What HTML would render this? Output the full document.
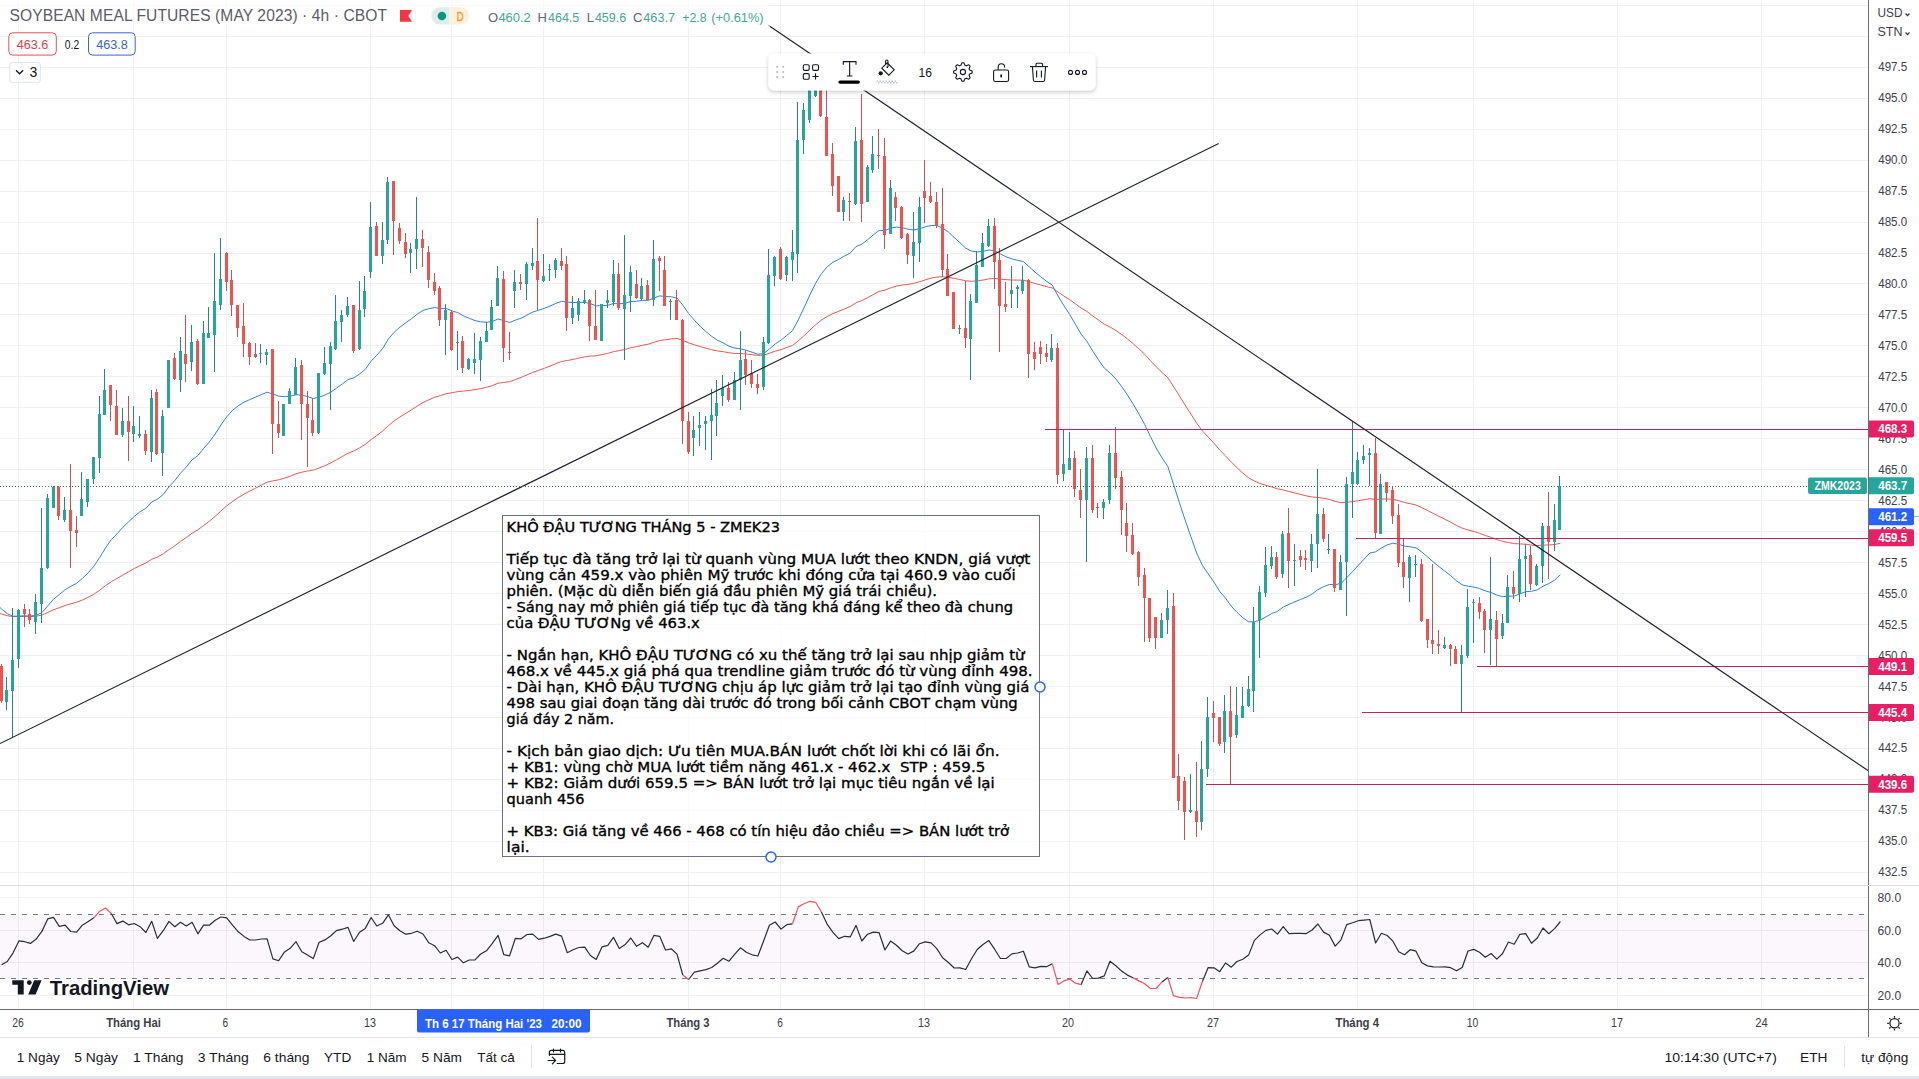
<!DOCTYPE html><html><head><meta charset="utf-8"><style>
html,body{margin:0;padding:0;background:#fff;width:1919px;height:1079px;overflow:hidden}
svg{display:block}
.t{font-family:"Liberation Sans",Arial,sans-serif}
.d{font-family:"DejaVu Sans",Verdana,sans-serif}
</style></head><body>
<svg width="1919" height="1079" viewBox="0 0 1919 1079">
<rect width="1919" height="1079" fill="#ffffff"/>
<g stroke="#f0f0f0" stroke-width="1" shape-rendering="crispEdges">
<line x1="18.5" y1="0" x2="18.5" y2="885"/>
<line x1="18.5" y1="886" x2="18.5" y2="1009"/>
<line x1="133.5" y1="0" x2="133.5" y2="885"/>
<line x1="133.5" y1="886" x2="133.5" y2="1009"/>
<line x1="226.5" y1="0" x2="226.5" y2="885"/>
<line x1="226.5" y1="886" x2="226.5" y2="1009"/>
<line x1="370.5" y1="0" x2="370.5" y2="885"/>
<line x1="370.5" y1="886" x2="370.5" y2="1009"/>
<line x1="451.5" y1="0" x2="451.5" y2="885"/>
<line x1="451.5" y1="886" x2="451.5" y2="1009"/>
<line x1="543.5" y1="0" x2="543.5" y2="885"/>
<line x1="543.5" y1="886" x2="543.5" y2="1009"/>
<line x1="688.5" y1="0" x2="688.5" y2="885"/>
<line x1="688.5" y1="886" x2="688.5" y2="1009"/>
<line x1="780.5" y1="0" x2="780.5" y2="885"/>
<line x1="780.5" y1="886" x2="780.5" y2="1009"/>
<line x1="924.5" y1="0" x2="924.5" y2="885"/>
<line x1="924.5" y1="886" x2="924.5" y2="1009"/>
<line x1="1069.5" y1="0" x2="1069.5" y2="885"/>
<line x1="1069.5" y1="886" x2="1069.5" y2="1009"/>
<line x1="1213.5" y1="0" x2="1213.5" y2="885"/>
<line x1="1213.5" y1="886" x2="1213.5" y2="1009"/>
<line x1="1357.5" y1="0" x2="1357.5" y2="885"/>
<line x1="1357.5" y1="886" x2="1357.5" y2="1009"/>
<line x1="1473.5" y1="0" x2="1473.5" y2="885"/>
<line x1="1473.5" y1="886" x2="1473.5" y2="1009"/>
<line x1="1617.5" y1="0" x2="1617.5" y2="885"/>
<line x1="1617.5" y1="886" x2="1617.5" y2="1009"/>
<line x1="1761.5" y1="0" x2="1761.5" y2="885"/>
<line x1="1761.5" y1="886" x2="1761.5" y2="1009"/>
<line x1="0" y1="5.5" x2="1868" y2="5.5"/>
<line x1="0" y1="36.5" x2="1868" y2="36.5"/>
<line x1="0" y1="67.5" x2="1868" y2="67.5"/>
<line x1="0" y1="98.5" x2="1868" y2="98.5"/>
<line x1="0" y1="129.5" x2="1868" y2="129.5"/>
<line x1="0" y1="160.5" x2="1868" y2="160.5"/>
<line x1="0" y1="191.5" x2="1868" y2="191.5"/>
<line x1="0" y1="222.5" x2="1868" y2="222.5"/>
<line x1="0" y1="253.5" x2="1868" y2="253.5"/>
<line x1="0" y1="283.5" x2="1868" y2="283.5"/>
<line x1="0" y1="314.5" x2="1868" y2="314.5"/>
<line x1="0" y1="345.5" x2="1868" y2="345.5"/>
<line x1="0" y1="376.5" x2="1868" y2="376.5"/>
<line x1="0" y1="407.5" x2="1868" y2="407.5"/>
<line x1="0" y1="438.5" x2="1868" y2="438.5"/>
<line x1="0" y1="469.5" x2="1868" y2="469.5"/>
<line x1="0" y1="500.5" x2="1868" y2="500.5"/>
<line x1="0" y1="531.5" x2="1868" y2="531.5"/>
<line x1="0" y1="562.5" x2="1868" y2="562.5"/>
<line x1="0" y1="593.5" x2="1868" y2="593.5"/>
<line x1="0" y1="624.5" x2="1868" y2="624.5"/>
<line x1="0" y1="655.5" x2="1868" y2="655.5"/>
<line x1="0" y1="686.5" x2="1868" y2="686.5"/>
<line x1="0" y1="717.5" x2="1868" y2="717.5"/>
<line x1="0" y1="748.5" x2="1868" y2="748.5"/>
<line x1="0" y1="779.5" x2="1868" y2="779.5"/>
<line x1="0" y1="810.5" x2="1868" y2="810.5"/>
<line x1="0" y1="841.5" x2="1868" y2="841.5"/>
<line x1="0" y1="872.5" x2="1868" y2="872.5"/>
<line x1="0" y1="897.5" x2="1868" y2="897.5"/>
<line x1="0" y1="930.5" x2="1868" y2="930.5"/>
<line x1="0" y1="962.5" x2="1868" y2="962.5"/>
<line x1="0" y1="995.5" x2="1868" y2="995.5"/>
</g>
<rect x="0" y="914" width="1868" height="65" fill="#9c27b0" fill-opacity="0.04"/>
<line x1="0" y1="914.5" x2="1868" y2="914.5" stroke="#787b86" stroke-width="1" stroke-dasharray="5 6" shape-rendering="crispEdges"/>
<line x1="0" y1="978.5" x2="1868" y2="978.5" stroke="#787b86" stroke-width="1" stroke-dasharray="5 6" shape-rendering="crispEdges"/>
<polyline points="-4.2,612.0 1.6,614.0 7.3,615.7 13.1,616.6 18.9,616.5 24.7,616.4 30.4,616.5 36.2,616.2 42.0,615.1 47.7,612.5 53.5,609.7 59.3,607.7 65.1,605.5 70.8,603.8 76.6,602.3 82.4,600.0 88.2,597.3 93.9,594.2 99.7,590.2 105.5,585.7 111.3,581.7 117.0,578.4 122.8,575.0 128.6,571.8 134.3,568.5 140.1,565.6 145.9,563.0 151.7,559.3 157.4,557.0 163.2,553.9 169.0,549.6 174.8,545.8 180.5,541.4 186.3,537.5 192.1,533.2 197.9,529.8 203.6,525.5 209.4,521.2 215.2,516.3 220.9,511.0 226.7,505.9 232.5,501.5 238.3,497.6 244.0,494.2 249.8,491.1 255.6,488.2 261.4,485.1 267.1,482.2 272.9,480.9 278.7,479.8 284.5,478.1 290.2,476.2 296.0,473.8 301.8,472.2 307.5,471.0 313.3,470.2 319.1,468.0 324.9,465.7 330.6,463.0 336.4,459.8 342.2,456.6 348.0,453.3 353.7,451.0 359.5,447.9 365.3,444.4 371.1,439.6 376.8,435.5 382.6,431.1 388.4,425.6 394.1,421.0 399.9,417.0 405.7,413.4 411.5,409.8 417.2,406.0 423.0,402.5 428.8,399.8 434.6,397.3 440.3,395.6 446.1,393.7 451.9,392.8 457.7,391.6 463.4,391.1 469.2,390.4 475.0,389.7 480.7,388.6 486.5,387.3 492.3,385.6 498.1,383.2 503.8,382.4 509.6,381.7 515.4,379.5 521.2,377.4 526.9,374.9 532.7,372.4 538.5,370.4 544.3,368.3 550.0,366.1 555.8,363.7 561.6,361.5 567.3,360.5 573.1,359.4 578.9,358.1 584.7,356.8 590.4,356.1 596.2,355.8 602.0,354.6 607.8,353.4 613.5,351.6 619.3,350.6 625.1,349.4 630.8,347.7 636.6,346.6 642.4,345.3 648.2,344.2 653.9,342.3 659.7,340.5 665.5,339.8 671.3,338.9 677.0,338.5 682.8,340.3 688.6,342.8 694.4,344.8 700.1,346.5 705.9,348.2 711.7,349.7 717.4,350.9 723.2,351.7 729.0,352.8 734.8,353.4 740.5,353.5 746.3,354.0 752.1,354.7 757.9,355.4 763.6,355.1 769.4,353.3 775.2,351.2 781.0,349.6 786.7,347.5 792.5,345.4 798.3,340.9 804.0,335.7 809.8,330.2 815.6,324.8 821.4,320.1 827.1,316.5 832.9,313.6 838.7,311.3 844.5,308.9 850.2,306.5 856.0,302.8 861.8,300.6 867.6,297.7 873.3,294.5 879.1,291.4 884.9,290.1 890.6,287.9 896.4,286.1 902.2,285.0 908.0,284.4 913.7,283.4 919.5,281.7 925.3,279.9 931.1,278.1 936.8,277.0 942.6,276.8 948.4,277.3 954.2,278.4 959.9,279.5 965.7,280.8 971.5,281.3 977.2,280.9 983.0,280.1 988.8,278.9 994.6,278.5 1000.3,279.1 1006.1,279.7 1011.9,280.0 1017.7,280.1 1023.4,280.1 1029.2,281.7 1035.0,283.5 1040.8,285.0 1046.5,286.6 1052.3,288.0 1058.1,292.1 1063.8,296.0 1069.6,299.6 1075.4,303.8 1081.2,308.1 1086.9,311.4 1092.7,315.9 1098.5,320.1 1104.3,324.2 1110.0,327.0 1115.8,330.4 1121.6,334.4 1127.4,338.8 1133.1,343.6 1138.9,348.8 1144.7,354.3 1150.4,360.6 1156.2,366.8 1162.0,372.4 1167.8,377.6 1173.5,386.5 1179.3,395.8 1185.1,405.0 1190.9,414.0 1196.6,423.1 1202.4,430.8 1208.2,437.1 1214.0,443.3 1219.7,450.0 1225.5,455.8 1231.3,462.1 1237.0,467.7 1242.8,473.0 1248.6,477.8 1254.4,481.0 1260.1,483.5 1265.9,485.3 1271.7,486.9 1277.5,488.9 1283.2,489.9 1289.0,491.5 1294.8,493.0 1300.6,494.4 1306.3,495.9 1312.1,497.0 1317.9,497.4 1323.6,498.3 1329.4,499.4 1335.2,501.4 1341.0,502.7 1346.7,502.3 1352.5,501.6 1358.3,500.7 1364.1,499.7 1369.8,498.7 1375.6,499.5 1381.4,499.1 1387.2,499.0 1392.9,499.3 1398.7,500.7 1404.5,502.5 1410.2,503.7 1416.0,505.0 1421.8,507.6 1427.6,510.5 1433.3,513.5 1439.1,516.4 1444.9,519.3 1450.7,522.2 1456.4,525.3 1462.2,528.2 1468.0,529.9 1473.8,531.5 1479.5,533.3 1485.3,535.5 1491.1,537.3 1496.8,539.6 1502.6,541.4 1508.4,542.5 1514.2,543.6 1519.9,543.9 1525.7,544.2 1531.5,545.1 1537.3,545.5 1543.0,545.1 1548.8,545.0 1554.6,544.5 1560.4,543.2" fill="none" stroke="#e35b55" stroke-width="1" stroke-linejoin="round"/>
<polyline points="-4.2,603.5 1.6,609.1 7.3,613.7 13.1,616.3 18.9,616.0 24.7,615.8 30.4,616.1 36.2,615.3 42.0,612.6 47.7,606.0 53.5,599.2 59.3,594.5 65.1,589.7 70.8,586.3 76.6,583.3 82.4,578.4 88.2,572.8 93.9,566.2 99.7,557.5 105.5,547.9 111.3,539.7 117.0,533.8 122.8,527.3 128.6,521.9 134.3,516.4 140.1,511.7 145.9,508.3 151.7,502.0 157.4,499.2 163.2,494.5 169.0,486.8 174.8,480.6 180.5,473.2 186.3,467.0 192.1,459.8 197.9,455.5 203.6,448.5 209.4,441.9 215.2,433.9 220.9,425.0 226.7,416.8 232.5,410.4 238.3,405.7 244.0,402.2 249.8,399.6 255.6,397.1 261.4,394.6 267.1,392.2 272.9,394.0 278.7,396.2 284.5,396.7 290.2,396.3 296.0,394.7 301.8,395.2 307.5,396.5 313.3,398.6 319.1,397.1 324.9,395.1 330.6,392.3 336.4,388.2 342.2,384.0 348.0,379.6 353.7,377.9 359.5,374.1 365.3,369.3 371.1,361.2 376.8,355.2 382.6,348.6 388.4,339.0 394.1,332.3 399.9,327.1 405.7,322.9 411.5,318.7 417.2,314.2 423.0,310.4 428.8,308.7 434.6,307.6 440.3,308.4 446.1,308.5 451.9,310.9 457.7,312.6 463.4,315.8 469.2,318.3 475.0,320.6 480.7,321.8 486.5,322.3 492.3,321.4 498.1,319.0 503.8,320.6 509.6,322.5 515.4,320.2 521.2,318.1 526.9,315.1 532.7,312.1 538.5,310.3 544.3,308.3 550.0,306.1 555.8,303.4 561.6,301.3 567.3,302.2 573.1,302.5 578.9,302.4 584.7,302.3 590.4,303.7 596.2,305.8 602.0,305.7 607.8,305.3 613.5,303.5 619.3,303.8 625.1,303.3 630.8,301.5 636.6,301.3 642.4,300.4 648.2,300.4 653.9,298.0 659.7,295.9 665.5,296.5 671.3,296.8 677.0,298.1 682.8,305.1 688.6,313.5 694.4,320.2 700.1,326.2 705.9,331.6 711.7,336.4 717.4,340.2 723.2,342.9 729.0,346.2 734.8,348.1 740.5,348.8 746.3,350.3 752.1,352.2 757.9,354.3 763.6,353.6 769.4,349.1 775.2,343.9 781.0,340.2 786.7,335.4 792.5,330.7 798.3,319.8 804.0,307.8 809.8,295.1 815.6,283.2 821.4,273.7 827.1,266.9 832.9,262.3 838.7,259.4 844.5,256.0 850.2,253.0 856.0,246.6 861.8,244.2 867.6,239.7 873.3,234.9 879.1,230.4 884.9,230.6 890.6,228.2 896.4,227.1 902.2,227.7 908.0,229.2 913.7,230.0 919.5,228.7 925.3,226.9 931.1,225.5 936.8,225.5 942.6,228.1 948.4,232.0 954.2,237.5 959.9,242.7 965.7,248.1 971.5,251.1 977.2,251.9 983.0,251.4 988.8,250.0 994.6,250.7 1000.3,253.8 1006.1,256.9 1011.9,258.8 1017.7,260.4 1023.4,261.5 1029.2,266.8 1035.0,272.1 1040.8,276.8 1046.5,281.3 1052.3,285.1 1058.1,296.0 1063.8,305.6 1069.6,314.3 1075.4,324.3 1081.2,334.3 1086.9,341.3 1092.7,351.0 1098.5,359.9 1104.3,368.1 1110.0,372.9 1115.8,378.9 1121.6,386.4 1127.4,394.9 1133.1,404.0 1138.9,413.9 1144.7,424.4 1150.4,436.5 1156.2,448.0 1162.0,457.9 1167.8,466.4 1173.5,484.2 1179.3,502.4 1185.1,520.0 1190.9,536.6 1196.6,552.9 1202.4,565.3 1208.2,573.9 1214.0,582.1 1219.7,591.4 1225.5,598.2 1231.3,606.2 1237.0,612.4 1242.8,617.7 1248.6,621.8 1254.4,621.8 1260.1,620.1 1265.9,617.0 1271.7,613.5 1277.5,611.4 1283.2,607.0 1289.0,604.4 1294.8,601.8 1300.6,599.4 1306.3,597.2 1312.1,594.1 1317.9,589.6 1323.6,586.7 1329.4,584.5 1335.2,584.7 1341.0,583.4 1346.7,577.7 1352.5,571.7 1358.3,565.3 1364.1,559.1 1369.8,553.0 1375.6,551.9 1381.4,548.0 1387.2,544.9 1392.9,543.2 1398.7,544.3 1404.5,546.2 1410.2,546.8 1416.0,547.8 1421.8,552.0 1427.6,557.0 1433.3,562.0 1439.1,566.7 1444.9,571.2 1450.7,575.7 1456.4,580.7 1462.2,584.9 1468.0,586.2 1473.8,587.1 1479.5,588.5 1485.3,590.9 1491.1,592.5 1496.8,595.1 1502.6,596.7 1508.4,596.2 1514.2,596.1 1519.9,593.9 1525.7,591.7 1531.5,591.3 1537.3,589.8 1543.0,586.2 1548.8,583.6 1554.6,580.0 1560.4,574.7" fill="none" stroke="#3382d6" stroke-width="1" stroke-linejoin="round"/>
<g shape-rendering="crispEdges">
<rect x="1" y="664" width="1" height="39" fill="#c8524f"/>
<rect x="0" y="666" width="3" height="35" fill="#ef5350"/>
<rect x="6" y="677" width="1" height="33" fill="#24887e"/>
<rect x="5" y="690" width="3" height="12" fill="#26a69a"/>
<rect x="12" y="608" width="1" height="129" fill="#24887e"/>
<rect x="11" y="660" width="3" height="31" fill="#26a69a"/>
<rect x="18" y="609" width="1" height="59" fill="#24887e"/>
<rect x="17" y="610" width="3" height="49" fill="#26a69a"/>
<rect x="24" y="604" width="1" height="23" fill="#c8524f"/>
<rect x="23" y="609" width="3" height="5" fill="#ef5350"/>
<rect x="29" y="609" width="1" height="15" fill="#c8524f"/>
<rect x="28" y="614" width="3" height="6" fill="#ef5350"/>
<rect x="35" y="594" width="1" height="40" fill="#24887e"/>
<rect x="34" y="602" width="3" height="20" fill="#26a69a"/>
<rect x="41" y="508" width="1" height="115" fill="#24887e"/>
<rect x="40" y="568" width="3" height="36" fill="#26a69a"/>
<rect x="47" y="494" width="1" height="75" fill="#24887e"/>
<rect x="46" y="498" width="3" height="70" fill="#26a69a"/>
<rect x="53" y="486" width="1" height="22" fill="#24887e"/>
<rect x="52" y="487" width="3" height="21" fill="#26a69a"/>
<rect x="58" y="486" width="1" height="34" fill="#c8524f"/>
<rect x="57" y="487" width="3" height="29" fill="#ef5350"/>
<rect x="64" y="497" width="1" height="25" fill="#24887e"/>
<rect x="63" y="510" width="3" height="10" fill="#26a69a"/>
<rect x="70" y="464" width="1" height="104" fill="#c8524f"/>
<rect x="69" y="510" width="3" height="21" fill="#ef5350"/>
<rect x="76" y="516" width="1" height="31" fill="#c8524f"/>
<rect x="75" y="530" width="3" height="3" fill="#ef5350"/>
<rect x="81" y="472" width="1" height="44" fill="#24887e"/>
<rect x="80" y="499" width="3" height="17" fill="#26a69a"/>
<rect x="87" y="479" width="1" height="28" fill="#24887e"/>
<rect x="86" y="479" width="3" height="23" fill="#26a69a"/>
<rect x="93" y="457" width="1" height="27" fill="#24887e"/>
<rect x="92" y="457" width="3" height="22" fill="#26a69a"/>
<rect x="99" y="396" width="1" height="77" fill="#24887e"/>
<rect x="98" y="414" width="3" height="44" fill="#26a69a"/>
<rect x="104" y="369" width="1" height="46" fill="#24887e"/>
<rect x="103" y="390" width="3" height="25" fill="#26a69a"/>
<rect x="110" y="385" width="1" height="36" fill="#c8524f"/>
<rect x="109" y="385" width="3" height="20" fill="#ef5350"/>
<rect x="116" y="390" width="1" height="45" fill="#c8524f"/>
<rect x="115" y="406" width="3" height="29" fill="#ef5350"/>
<rect x="122" y="408" width="1" height="29" fill="#24887e"/>
<rect x="121" y="421" width="3" height="14" fill="#26a69a"/>
<rect x="128" y="396" width="1" height="65" fill="#c8524f"/>
<rect x="127" y="421" width="3" height="11" fill="#ef5350"/>
<rect x="133" y="406" width="1" height="36" fill="#24887e"/>
<rect x="132" y="426" width="3" height="8" fill="#26a69a"/>
<rect x="139" y="416" width="1" height="22" fill="#24887e"/>
<rect x="138" y="434" width="3" height="2" fill="#26a69a"/>
<rect x="145" y="430" width="1" height="25" fill="#c8524f"/>
<rect x="144" y="434" width="3" height="17" fill="#ef5350"/>
<rect x="151" y="390" width="1" height="72" fill="#24887e"/>
<rect x="150" y="398" width="3" height="54" fill="#26a69a"/>
<rect x="156" y="389" width="1" height="66" fill="#c8524f"/>
<rect x="155" y="392" width="3" height="62" fill="#ef5350"/>
<rect x="162" y="410" width="1" height="66" fill="#24887e"/>
<rect x="161" y="416" width="3" height="37" fill="#26a69a"/>
<rect x="168" y="360" width="1" height="48" fill="#24887e"/>
<rect x="167" y="360" width="3" height="48" fill="#26a69a"/>
<rect x="174" y="353" width="1" height="27" fill="#c8524f"/>
<rect x="173" y="358" width="3" height="21" fill="#ef5350"/>
<rect x="180" y="337" width="1" height="55" fill="#24887e"/>
<rect x="179" y="351" width="3" height="29" fill="#26a69a"/>
<rect x="185" y="315" width="1" height="67" fill="#c8524f"/>
<rect x="184" y="354" width="3" height="10" fill="#ef5350"/>
<rect x="191" y="325" width="1" height="46" fill="#24887e"/>
<rect x="190" y="342" width="3" height="20" fill="#26a69a"/>
<rect x="197" y="339" width="1" height="46" fill="#c8524f"/>
<rect x="196" y="341" width="3" height="43" fill="#ef5350"/>
<rect x="203" y="321" width="1" height="63" fill="#24887e"/>
<rect x="202" y="333" width="3" height="51" fill="#26a69a"/>
<rect x="208" y="307" width="1" height="31" fill="#24887e"/>
<rect x="207" y="333" width="3" height="5" fill="#26a69a"/>
<rect x="214" y="253" width="1" height="119" fill="#24887e"/>
<rect x="213" y="301" width="3" height="34" fill="#26a69a"/>
<rect x="220" y="238" width="1" height="72" fill="#24887e"/>
<rect x="219" y="279" width="3" height="26" fill="#26a69a"/>
<rect x="226" y="252" width="1" height="39" fill="#c8524f"/>
<rect x="225" y="253" width="3" height="29" fill="#ef5350"/>
<rect x="231" y="270" width="1" height="46" fill="#c8524f"/>
<rect x="230" y="280" width="3" height="25" fill="#ef5350"/>
<rect x="237" y="305" width="1" height="32" fill="#c8524f"/>
<rect x="236" y="305" width="3" height="23" fill="#ef5350"/>
<rect x="243" y="303" width="1" height="54" fill="#c8524f"/>
<rect x="242" y="326" width="3" height="18" fill="#ef5350"/>
<rect x="249" y="342" width="1" height="23" fill="#c8524f"/>
<rect x="248" y="343" width="3" height="14" fill="#ef5350"/>
<rect x="255" y="343" width="1" height="15" fill="#c8524f"/>
<rect x="254" y="354" width="3" height="3" fill="#ef5350"/>
<rect x="260" y="344" width="1" height="19" fill="#24887e"/>
<rect x="259" y="353" width="3" height="1" fill="#26a69a"/>
<rect x="266" y="349" width="1" height="16" fill="#24887e"/>
<rect x="265" y="352" width="3" height="3" fill="#26a69a"/>
<rect x="272" y="349" width="1" height="105" fill="#c8524f"/>
<rect x="271" y="349" width="3" height="75" fill="#ef5350"/>
<rect x="278" y="401" width="1" height="37" fill="#c8524f"/>
<rect x="277" y="424" width="3" height="9" fill="#ef5350"/>
<rect x="283" y="404" width="1" height="32" fill="#24887e"/>
<rect x="282" y="404" width="3" height="32" fill="#26a69a"/>
<rect x="289" y="388" width="1" height="16" fill="#24887e"/>
<rect x="288" y="391" width="3" height="13" fill="#26a69a"/>
<rect x="295" y="358" width="1" height="37" fill="#24887e"/>
<rect x="294" y="367" width="3" height="28" fill="#26a69a"/>
<rect x="301" y="360" width="1" height="80" fill="#c8524f"/>
<rect x="300" y="365" width="3" height="39" fill="#ef5350"/>
<rect x="307" y="391" width="1" height="76" fill="#c8524f"/>
<rect x="306" y="404" width="3" height="14" fill="#ef5350"/>
<rect x="312" y="398" width="1" height="38" fill="#c8524f"/>
<rect x="311" y="420" width="3" height="13" fill="#ef5350"/>
<rect x="318" y="373" width="1" height="61" fill="#24887e"/>
<rect x="317" y="373" width="3" height="60" fill="#26a69a"/>
<rect x="324" y="347" width="1" height="28" fill="#24887e"/>
<rect x="323" y="363" width="3" height="11" fill="#26a69a"/>
<rect x="330" y="342" width="1" height="68" fill="#24887e"/>
<rect x="329" y="346" width="3" height="18" fill="#26a69a"/>
<rect x="335" y="295" width="1" height="55" fill="#24887e"/>
<rect x="334" y="321" width="3" height="28" fill="#26a69a"/>
<rect x="341" y="310" width="1" height="32" fill="#24887e"/>
<rect x="340" y="315" width="3" height="7" fill="#26a69a"/>
<rect x="347" y="297" width="1" height="20" fill="#24887e"/>
<rect x="346" y="306" width="3" height="9" fill="#26a69a"/>
<rect x="353" y="305" width="1" height="48" fill="#c8524f"/>
<rect x="352" y="305" width="3" height="46" fill="#ef5350"/>
<rect x="359" y="281" width="1" height="69" fill="#24887e"/>
<rect x="358" y="310" width="3" height="39" fill="#26a69a"/>
<rect x="364" y="276" width="1" height="41" fill="#24887e"/>
<rect x="363" y="291" width="3" height="18" fill="#26a69a"/>
<rect x="370" y="202" width="1" height="76" fill="#24887e"/>
<rect x="369" y="227" width="3" height="45" fill="#26a69a"/>
<rect x="376" y="222" width="1" height="34" fill="#c8524f"/>
<rect x="375" y="226" width="3" height="30" fill="#ef5350"/>
<rect x="382" y="222" width="1" height="42" fill="#24887e"/>
<rect x="381" y="240" width="3" height="16" fill="#26a69a"/>
<rect x="387" y="177" width="1" height="67" fill="#24887e"/>
<rect x="386" y="182" width="3" height="58" fill="#26a69a"/>
<rect x="393" y="181" width="1" height="74" fill="#c8524f"/>
<rect x="392" y="181" width="3" height="40" fill="#ef5350"/>
<rect x="399" y="223" width="1" height="21" fill="#c8524f"/>
<rect x="398" y="228" width="3" height="13" fill="#ef5350"/>
<rect x="405" y="233" width="1" height="25" fill="#c8524f"/>
<rect x="404" y="242" width="3" height="12" fill="#ef5350"/>
<rect x="410" y="243" width="1" height="30" fill="#24887e"/>
<rect x="409" y="249" width="3" height="4" fill="#26a69a"/>
<rect x="416" y="197" width="1" height="72" fill="#24887e"/>
<rect x="415" y="239" width="3" height="10" fill="#26a69a"/>
<rect x="422" y="230" width="1" height="37" fill="#c8524f"/>
<rect x="421" y="239" width="3" height="9" fill="#ef5350"/>
<rect x="428" y="246" width="1" height="42" fill="#c8524f"/>
<rect x="427" y="252" width="3" height="28" fill="#ef5350"/>
<rect x="434" y="273" width="1" height="22" fill="#c8524f"/>
<rect x="433" y="282" width="3" height="9" fill="#ef5350"/>
<rect x="439" y="286" width="1" height="40" fill="#c8524f"/>
<rect x="438" y="288" width="3" height="32" fill="#ef5350"/>
<rect x="445" y="304" width="1" height="51" fill="#24887e"/>
<rect x="444" y="310" width="3" height="10" fill="#26a69a"/>
<rect x="451" y="310" width="1" height="41" fill="#c8524f"/>
<rect x="450" y="312" width="3" height="38" fill="#ef5350"/>
<rect x="457" y="331" width="1" height="39" fill="#24887e"/>
<rect x="456" y="342" width="3" height="1" fill="#26a69a"/>
<rect x="462" y="336" width="1" height="37" fill="#c8524f"/>
<rect x="461" y="341" width="3" height="27" fill="#ef5350"/>
<rect x="468" y="358" width="1" height="12" fill="#24887e"/>
<rect x="467" y="359" width="3" height="10" fill="#26a69a"/>
<rect x="474" y="333" width="1" height="41" fill="#24887e"/>
<rect x="473" y="359" width="3" height="4" fill="#26a69a"/>
<rect x="480" y="337" width="1" height="44" fill="#24887e"/>
<rect x="479" y="341" width="3" height="19" fill="#26a69a"/>
<rect x="486" y="322" width="1" height="20" fill="#24887e"/>
<rect x="485" y="331" width="3" height="11" fill="#26a69a"/>
<rect x="491" y="300" width="1" height="30" fill="#24887e"/>
<rect x="490" y="307" width="3" height="23" fill="#26a69a"/>
<rect x="497" y="266" width="1" height="40" fill="#24887e"/>
<rect x="496" y="278" width="3" height="28" fill="#26a69a"/>
<rect x="503" y="271" width="1" height="91" fill="#c8524f"/>
<rect x="502" y="279" width="3" height="69" fill="#ef5350"/>
<rect x="509" y="332" width="1" height="28" fill="#c8524f"/>
<rect x="508" y="352" width="3" height="1" fill="#ef5350"/>
<rect x="514" y="270" width="1" height="38" fill="#24887e"/>
<rect x="513" y="282" width="3" height="9" fill="#26a69a"/>
<rect x="520" y="274" width="1" height="16" fill="#c8524f"/>
<rect x="519" y="282" width="3" height="2" fill="#ef5350"/>
<rect x="526" y="262" width="1" height="38" fill="#24887e"/>
<rect x="525" y="264" width="3" height="20" fill="#26a69a"/>
<rect x="532" y="248" width="1" height="22" fill="#24887e"/>
<rect x="531" y="263" width="3" height="3" fill="#26a69a"/>
<rect x="537" y="218" width="1" height="92" fill="#c8524f"/>
<rect x="536" y="261" width="3" height="19" fill="#ef5350"/>
<rect x="543" y="254" width="1" height="28" fill="#24887e"/>
<rect x="542" y="276" width="3" height="5" fill="#26a69a"/>
<rect x="549" y="264" width="1" height="17" fill="#24887e"/>
<rect x="548" y="269" width="3" height="1" fill="#26a69a"/>
<rect x="555" y="258" width="1" height="20" fill="#24887e"/>
<rect x="554" y="260" width="3" height="10" fill="#26a69a"/>
<rect x="561" y="248" width="1" height="22" fill="#c8524f"/>
<rect x="560" y="261" width="3" height="5" fill="#ef5350"/>
<rect x="566" y="256" width="1" height="75" fill="#c8524f"/>
<rect x="565" y="264" width="3" height="54" fill="#ef5350"/>
<rect x="572" y="296" width="1" height="28" fill="#24887e"/>
<rect x="571" y="308" width="3" height="10" fill="#26a69a"/>
<rect x="578" y="298" width="1" height="23" fill="#24887e"/>
<rect x="577" y="301" width="3" height="14" fill="#26a69a"/>
<rect x="584" y="290" width="1" height="14" fill="#24887e"/>
<rect x="583" y="300" width="3" height="3" fill="#26a69a"/>
<rect x="589" y="299" width="1" height="42" fill="#c8524f"/>
<rect x="588" y="300" width="3" height="26" fill="#ef5350"/>
<rect x="595" y="290" width="1" height="50" fill="#c8524f"/>
<rect x="594" y="326" width="3" height="14" fill="#ef5350"/>
<rect x="601" y="304" width="1" height="37" fill="#24887e"/>
<rect x="600" y="304" width="3" height="37" fill="#26a69a"/>
<rect x="607" y="290" width="1" height="18" fill="#24887e"/>
<rect x="606" y="300" width="3" height="3" fill="#26a69a"/>
<rect x="613" y="260" width="1" height="46" fill="#24887e"/>
<rect x="612" y="274" width="3" height="28" fill="#26a69a"/>
<rect x="618" y="263" width="1" height="47" fill="#c8524f"/>
<rect x="617" y="274" width="3" height="34" fill="#ef5350"/>
<rect x="624" y="235" width="1" height="125" fill="#24887e"/>
<rect x="623" y="295" width="3" height="14" fill="#26a69a"/>
<rect x="630" y="266" width="1" height="46" fill="#24887e"/>
<rect x="629" y="272" width="3" height="24" fill="#26a69a"/>
<rect x="636" y="270" width="1" height="29" fill="#c8524f"/>
<rect x="635" y="284" width="3" height="14" fill="#ef5350"/>
<rect x="641" y="278" width="1" height="22" fill="#24887e"/>
<rect x="640" y="286" width="3" height="13" fill="#26a69a"/>
<rect x="647" y="280" width="1" height="20" fill="#c8524f"/>
<rect x="646" y="285" width="3" height="15" fill="#ef5350"/>
<rect x="653" y="240" width="1" height="66" fill="#24887e"/>
<rect x="652" y="259" width="3" height="41" fill="#26a69a"/>
<rect x="659" y="256" width="1" height="35" fill="#c8524f"/>
<rect x="658" y="258" width="3" height="3" fill="#ef5350"/>
<rect x="664" y="256" width="1" height="50" fill="#c8524f"/>
<rect x="663" y="270" width="3" height="36" fill="#ef5350"/>
<rect x="670" y="299" width="1" height="21" fill="#24887e"/>
<rect x="669" y="301" width="3" height="1" fill="#26a69a"/>
<rect x="676" y="290" width="1" height="30" fill="#c8524f"/>
<rect x="675" y="300" width="3" height="20" fill="#ef5350"/>
<rect x="682" y="319" width="1" height="125" fill="#c8524f"/>
<rect x="681" y="320" width="3" height="101" fill="#ef5350"/>
<rect x="688" y="412" width="1" height="42" fill="#c8524f"/>
<rect x="687" y="421" width="3" height="31" fill="#ef5350"/>
<rect x="693" y="416" width="1" height="40" fill="#24887e"/>
<rect x="692" y="430" width="3" height="8" fill="#26a69a"/>
<rect x="699" y="412" width="1" height="34" fill="#24887e"/>
<rect x="698" y="425" width="3" height="3" fill="#26a69a"/>
<rect x="705" y="416" width="1" height="34" fill="#24887e"/>
<rect x="704" y="421" width="3" height="3" fill="#26a69a"/>
<rect x="711" y="389" width="1" height="71" fill="#24887e"/>
<rect x="710" y="415" width="3" height="6" fill="#26a69a"/>
<rect x="716" y="380" width="1" height="56" fill="#24887e"/>
<rect x="715" y="403" width="3" height="13" fill="#26a69a"/>
<rect x="722" y="375" width="1" height="31" fill="#24887e"/>
<rect x="721" y="388" width="3" height="8" fill="#26a69a"/>
<rect x="728" y="382" width="1" height="20" fill="#c8524f"/>
<rect x="727" y="388" width="3" height="12" fill="#ef5350"/>
<rect x="734" y="372" width="1" height="28" fill="#24887e"/>
<rect x="733" y="380" width="3" height="20" fill="#26a69a"/>
<rect x="740" y="331" width="1" height="79" fill="#24887e"/>
<rect x="739" y="360" width="3" height="20" fill="#26a69a"/>
<rect x="745" y="350" width="1" height="35" fill="#c8524f"/>
<rect x="744" y="359" width="3" height="16" fill="#ef5350"/>
<rect x="751" y="360" width="1" height="28" fill="#c8524f"/>
<rect x="750" y="373" width="3" height="11" fill="#ef5350"/>
<rect x="757" y="374" width="1" height="20" fill="#c8524f"/>
<rect x="756" y="384" width="3" height="4" fill="#ef5350"/>
<rect x="763" y="337" width="1" height="53" fill="#24887e"/>
<rect x="762" y="342" width="3" height="45" fill="#26a69a"/>
<rect x="768" y="249" width="1" height="95" fill="#24887e"/>
<rect x="767" y="275" width="3" height="68" fill="#26a69a"/>
<rect x="774" y="256" width="1" height="30" fill="#24887e"/>
<rect x="773" y="257" width="3" height="19" fill="#26a69a"/>
<rect x="780" y="247" width="1" height="33" fill="#c8524f"/>
<rect x="779" y="249" width="3" height="30" fill="#ef5350"/>
<rect x="786" y="256" width="1" height="25" fill="#24887e"/>
<rect x="785" y="257" width="3" height="18" fill="#26a69a"/>
<rect x="792" y="230" width="1" height="51" fill="#24887e"/>
<rect x="791" y="252" width="3" height="8" fill="#26a69a"/>
<rect x="797" y="102" width="1" height="171" fill="#24887e"/>
<rect x="796" y="140" width="3" height="114" fill="#26a69a"/>
<rect x="803" y="103" width="1" height="51" fill="#24887e"/>
<rect x="802" y="110" width="3" height="30" fill="#26a69a"/>
<rect x="809" y="80" width="1" height="43" fill="#24887e"/>
<rect x="808" y="85" width="3" height="35" fill="#26a69a"/>
<rect x="815" y="84" width="1" height="13" fill="#24887e"/>
<rect x="814" y="88" width="3" height="8" fill="#26a69a"/>
<rect x="820" y="82" width="1" height="35" fill="#c8524f"/>
<rect x="819" y="88" width="3" height="28" fill="#ef5350"/>
<rect x="826" y="78" width="1" height="78" fill="#c8524f"/>
<rect x="825" y="117" width="3" height="39" fill="#ef5350"/>
<rect x="832" y="143" width="1" height="53" fill="#c8524f"/>
<rect x="831" y="154" width="3" height="32" fill="#ef5350"/>
<rect x="838" y="176" width="1" height="36" fill="#c8524f"/>
<rect x="837" y="176" width="3" height="36" fill="#ef5350"/>
<rect x="843" y="197" width="1" height="24" fill="#24887e"/>
<rect x="842" y="200" width="3" height="12" fill="#26a69a"/>
<rect x="849" y="193" width="1" height="28" fill="#c8524f"/>
<rect x="848" y="201" width="3" height="1" fill="#ef5350"/>
<rect x="855" y="127" width="1" height="78" fill="#24887e"/>
<rect x="854" y="141" width="3" height="63" fill="#26a69a"/>
<rect x="861" y="94" width="1" height="128" fill="#c8524f"/>
<rect x="860" y="140" width="3" height="64" fill="#ef5350"/>
<rect x="867" y="165" width="1" height="37" fill="#24887e"/>
<rect x="866" y="167" width="3" height="35" fill="#26a69a"/>
<rect x="872" y="136" width="1" height="37" fill="#24887e"/>
<rect x="871" y="154" width="3" height="16" fill="#26a69a"/>
<rect x="878" y="129" width="1" height="40" fill="#c8524f"/>
<rect x="877" y="155" width="3" height="1" fill="#ef5350"/>
<rect x="884" y="138" width="1" height="111" fill="#c8524f"/>
<rect x="883" y="156" width="3" height="79" fill="#ef5350"/>
<rect x="890" y="180" width="1" height="54" fill="#24887e"/>
<rect x="889" y="188" width="3" height="46" fill="#26a69a"/>
<rect x="895" y="192" width="1" height="29" fill="#c8524f"/>
<rect x="894" y="197" width="3" height="11" fill="#ef5350"/>
<rect x="901" y="206" width="1" height="33" fill="#c8524f"/>
<rect x="900" y="207" width="3" height="31" fill="#ef5350"/>
<rect x="907" y="233" width="1" height="31" fill="#c8524f"/>
<rect x="906" y="234" width="3" height="21" fill="#ef5350"/>
<rect x="913" y="212" width="1" height="66" fill="#24887e"/>
<rect x="912" y="242" width="3" height="14" fill="#26a69a"/>
<rect x="919" y="197" width="1" height="65" fill="#24887e"/>
<rect x="918" y="207" width="3" height="36" fill="#26a69a"/>
<rect x="924" y="160" width="1" height="63" fill="#c8524f"/>
<rect x="923" y="191" width="3" height="7" fill="#ef5350"/>
<rect x="930" y="182" width="1" height="21" fill="#c8524f"/>
<rect x="929" y="196" width="3" height="6" fill="#ef5350"/>
<rect x="936" y="192" width="1" height="36" fill="#c8524f"/>
<rect x="935" y="202" width="3" height="24" fill="#ef5350"/>
<rect x="942" y="188" width="1" height="89" fill="#c8524f"/>
<rect x="941" y="224" width="3" height="46" fill="#ef5350"/>
<rect x="947" y="254" width="1" height="42" fill="#c8524f"/>
<rect x="946" y="269" width="3" height="27" fill="#ef5350"/>
<rect x="953" y="292" width="1" height="37" fill="#c8524f"/>
<rect x="952" y="292" width="3" height="37" fill="#ef5350"/>
<rect x="959" y="325" width="1" height="9" fill="#24887e"/>
<rect x="958" y="328" width="3" height="1" fill="#26a69a"/>
<rect x="965" y="281" width="1" height="67" fill="#c8524f"/>
<rect x="964" y="328" width="3" height="10" fill="#ef5350"/>
<rect x="970" y="294" width="1" height="86" fill="#24887e"/>
<rect x="969" y="301" width="3" height="38" fill="#26a69a"/>
<rect x="976" y="251" width="1" height="52" fill="#24887e"/>
<rect x="975" y="265" width="3" height="38" fill="#26a69a"/>
<rect x="982" y="233" width="1" height="34" fill="#24887e"/>
<rect x="981" y="243" width="3" height="24" fill="#26a69a"/>
<rect x="988" y="219" width="1" height="28" fill="#24887e"/>
<rect x="987" y="226" width="3" height="20" fill="#26a69a"/>
<rect x="994" y="218" width="1" height="71" fill="#c8524f"/>
<rect x="993" y="226" width="3" height="36" fill="#ef5350"/>
<rect x="999" y="248" width="1" height="104" fill="#c8524f"/>
<rect x="998" y="260" width="3" height="46" fill="#ef5350"/>
<rect x="1005" y="282" width="1" height="30" fill="#c8524f"/>
<rect x="1004" y="304" width="3" height="3" fill="#ef5350"/>
<rect x="1011" y="266" width="1" height="42" fill="#24887e"/>
<rect x="1010" y="290" width="3" height="4" fill="#26a69a"/>
<rect x="1017" y="285" width="1" height="23" fill="#24887e"/>
<rect x="1016" y="287" width="3" height="2" fill="#26a69a"/>
<rect x="1022" y="266" width="1" height="28" fill="#24887e"/>
<rect x="1021" y="280" width="3" height="11" fill="#26a69a"/>
<rect x="1028" y="279" width="1" height="99" fill="#c8524f"/>
<rect x="1027" y="280" width="3" height="74" fill="#ef5350"/>
<rect x="1034" y="342" width="1" height="28" fill="#c8524f"/>
<rect x="1033" y="352" width="3" height="7" fill="#ef5350"/>
<rect x="1040" y="341" width="1" height="23" fill="#c8524f"/>
<rect x="1039" y="347" width="3" height="7" fill="#ef5350"/>
<rect x="1046" y="344" width="1" height="18" fill="#c8524f"/>
<rect x="1045" y="353" width="3" height="4" fill="#ef5350"/>
<rect x="1051" y="334" width="1" height="28" fill="#24887e"/>
<rect x="1050" y="348" width="3" height="12" fill="#26a69a"/>
<rect x="1057" y="343" width="1" height="141" fill="#c8524f"/>
<rect x="1056" y="348" width="3" height="127" fill="#ef5350"/>
<rect x="1063" y="430" width="1" height="51" fill="#24887e"/>
<rect x="1062" y="464" width="3" height="10" fill="#26a69a"/>
<rect x="1069" y="432" width="1" height="38" fill="#24887e"/>
<rect x="1068" y="458" width="3" height="12" fill="#26a69a"/>
<rect x="1074" y="451" width="1" height="46" fill="#c8524f"/>
<rect x="1073" y="458" width="3" height="31" fill="#ef5350"/>
<rect x="1080" y="469" width="1" height="49" fill="#c8524f"/>
<rect x="1079" y="490" width="3" height="10" fill="#ef5350"/>
<rect x="1086" y="447" width="1" height="115" fill="#24887e"/>
<rect x="1085" y="458" width="3" height="42" fill="#26a69a"/>
<rect x="1092" y="445" width="1" height="68" fill="#c8524f"/>
<rect x="1091" y="458" width="3" height="52" fill="#ef5350"/>
<rect x="1097" y="503" width="1" height="15" fill="#c8524f"/>
<rect x="1096" y="507" width="3" height="1" fill="#ef5350"/>
<rect x="1103" y="499" width="1" height="20" fill="#24887e"/>
<rect x="1102" y="502" width="3" height="6" fill="#26a69a"/>
<rect x="1109" y="445" width="1" height="59" fill="#24887e"/>
<rect x="1108" y="453" width="3" height="47" fill="#26a69a"/>
<rect x="1115" y="427" width="1" height="62" fill="#c8524f"/>
<rect x="1114" y="453" width="3" height="25" fill="#ef5350"/>
<rect x="1121" y="471" width="1" height="64" fill="#c8524f"/>
<rect x="1120" y="477" width="3" height="33" fill="#ef5350"/>
<rect x="1126" y="503" width="1" height="49" fill="#c8524f"/>
<rect x="1125" y="523" width="3" height="13" fill="#ef5350"/>
<rect x="1132" y="523" width="1" height="32" fill="#c8524f"/>
<rect x="1131" y="535" width="3" height="19" fill="#ef5350"/>
<rect x="1138" y="551" width="1" height="35" fill="#c8524f"/>
<rect x="1137" y="552" width="3" height="25" fill="#ef5350"/>
<rect x="1144" y="568" width="1" height="74" fill="#c8524f"/>
<rect x="1143" y="575" width="3" height="23" fill="#ef5350"/>
<rect x="1149" y="598" width="1" height="44" fill="#c8524f"/>
<rect x="1148" y="598" width="3" height="40" fill="#ef5350"/>
<rect x="1155" y="617" width="1" height="32" fill="#c8524f"/>
<rect x="1154" y="617" width="3" height="21" fill="#ef5350"/>
<rect x="1161" y="613" width="1" height="25" fill="#24887e"/>
<rect x="1160" y="620" width="3" height="18" fill="#26a69a"/>
<rect x="1167" y="590" width="1" height="44" fill="#24887e"/>
<rect x="1166" y="608" width="3" height="12" fill="#26a69a"/>
<rect x="1173" y="593" width="1" height="185" fill="#c8524f"/>
<rect x="1172" y="606" width="3" height="172" fill="#ef5350"/>
<rect x="1178" y="754" width="1" height="56" fill="#c8524f"/>
<rect x="1177" y="776" width="3" height="25" fill="#ef5350"/>
<rect x="1184" y="777" width="1" height="63" fill="#c8524f"/>
<rect x="1183" y="781" width="3" height="31" fill="#ef5350"/>
<rect x="1190" y="774" width="1" height="39" fill="#24887e"/>
<rect x="1189" y="810" width="3" height="2" fill="#26a69a"/>
<rect x="1196" y="762" width="1" height="75" fill="#c8524f"/>
<rect x="1195" y="811" width="3" height="11" fill="#ef5350"/>
<rect x="1201" y="741" width="1" height="89" fill="#24887e"/>
<rect x="1200" y="769" width="3" height="53" fill="#26a69a"/>
<rect x="1207" y="697" width="1" height="80" fill="#24887e"/>
<rect x="1206" y="717" width="3" height="52" fill="#26a69a"/>
<rect x="1213" y="701" width="1" height="41" fill="#c8524f"/>
<rect x="1212" y="713" width="3" height="5" fill="#ef5350"/>
<rect x="1219" y="717" width="1" height="29" fill="#c8524f"/>
<rect x="1218" y="717" width="3" height="27" fill="#ef5350"/>
<rect x="1224" y="695" width="1" height="58" fill="#24887e"/>
<rect x="1223" y="711" width="3" height="31" fill="#26a69a"/>
<rect x="1230" y="686" width="1" height="98" fill="#c8524f"/>
<rect x="1229" y="711" width="3" height="26" fill="#ef5350"/>
<rect x="1236" y="687" width="1" height="51" fill="#24887e"/>
<rect x="1235" y="715" width="3" height="20" fill="#26a69a"/>
<rect x="1242" y="687" width="1" height="31" fill="#24887e"/>
<rect x="1241" y="706" width="3" height="12" fill="#26a69a"/>
<rect x="1248" y="676" width="1" height="31" fill="#24887e"/>
<rect x="1247" y="689" width="3" height="17" fill="#26a69a"/>
<rect x="1253" y="607" width="1" height="105" fill="#24887e"/>
<rect x="1252" y="622" width="3" height="69" fill="#26a69a"/>
<rect x="1259" y="586" width="1" height="72" fill="#24887e"/>
<rect x="1258" y="592" width="3" height="28" fill="#26a69a"/>
<rect x="1265" y="547" width="1" height="50" fill="#24887e"/>
<rect x="1264" y="565" width="3" height="28" fill="#26a69a"/>
<rect x="1271" y="546" width="1" height="23" fill="#24887e"/>
<rect x="1270" y="557" width="3" height="9" fill="#26a69a"/>
<rect x="1276" y="552" width="1" height="27" fill="#c8524f"/>
<rect x="1275" y="557" width="3" height="20" fill="#ef5350"/>
<rect x="1282" y="531" width="1" height="47" fill="#24887e"/>
<rect x="1281" y="534" width="3" height="40" fill="#26a69a"/>
<rect x="1288" y="508" width="1" height="80" fill="#c8524f"/>
<rect x="1287" y="533" width="3" height="28" fill="#ef5350"/>
<rect x="1294" y="544" width="1" height="42" fill="#24887e"/>
<rect x="1293" y="560" width="3" height="1" fill="#26a69a"/>
<rect x="1300" y="550" width="1" height="17" fill="#c8524f"/>
<rect x="1299" y="556" width="3" height="4" fill="#ef5350"/>
<rect x="1305" y="550" width="1" height="20" fill="#c8524f"/>
<rect x="1304" y="558" width="3" height="2" fill="#ef5350"/>
<rect x="1311" y="534" width="1" height="38" fill="#24887e"/>
<rect x="1310" y="544" width="3" height="17" fill="#26a69a"/>
<rect x="1317" y="469" width="1" height="99" fill="#24887e"/>
<rect x="1316" y="514" width="3" height="30" fill="#26a69a"/>
<rect x="1323" y="508" width="1" height="34" fill="#c8524f"/>
<rect x="1322" y="514" width="3" height="25" fill="#ef5350"/>
<rect x="1328" y="534" width="1" height="20" fill="#24887e"/>
<rect x="1327" y="549" width="3" height="1" fill="#26a69a"/>
<rect x="1334" y="549" width="1" height="43" fill="#c8524f"/>
<rect x="1333" y="549" width="3" height="39" fill="#ef5350"/>
<rect x="1340" y="555" width="1" height="35" fill="#24887e"/>
<rect x="1339" y="562" width="3" height="28" fill="#26a69a"/>
<rect x="1346" y="477" width="1" height="139" fill="#24887e"/>
<rect x="1345" y="484" width="3" height="78" fill="#26a69a"/>
<rect x="1352" y="421" width="1" height="97" fill="#24887e"/>
<rect x="1351" y="472" width="3" height="12" fill="#26a69a"/>
<rect x="1357" y="452" width="1" height="33" fill="#24887e"/>
<rect x="1356" y="460" width="3" height="24" fill="#26a69a"/>
<rect x="1363" y="445" width="1" height="19" fill="#24887e"/>
<rect x="1362" y="456" width="3" height="4" fill="#26a69a"/>
<rect x="1369" y="448" width="1" height="38" fill="#24887e"/>
<rect x="1368" y="453" width="3" height="2" fill="#26a69a"/>
<rect x="1375" y="438" width="1" height="100" fill="#c8524f"/>
<rect x="1374" y="453" width="3" height="80" fill="#ef5350"/>
<rect x="1380" y="474" width="1" height="60" fill="#24887e"/>
<rect x="1379" y="484" width="3" height="50" fill="#26a69a"/>
<rect x="1386" y="482" width="1" height="20" fill="#c8524f"/>
<rect x="1385" y="482" width="3" height="11" fill="#ef5350"/>
<rect x="1392" y="486" width="1" height="38" fill="#c8524f"/>
<rect x="1391" y="490" width="3" height="26" fill="#ef5350"/>
<rect x="1398" y="504" width="1" height="63" fill="#c8524f"/>
<rect x="1397" y="515" width="3" height="48" fill="#ef5350"/>
<rect x="1403" y="538" width="1" height="50" fill="#c8524f"/>
<rect x="1402" y="562" width="3" height="15" fill="#ef5350"/>
<rect x="1409" y="555" width="1" height="47" fill="#24887e"/>
<rect x="1408" y="557" width="3" height="21" fill="#26a69a"/>
<rect x="1415" y="555" width="1" height="22" fill="#24887e"/>
<rect x="1414" y="564" width="3" height="1" fill="#26a69a"/>
<rect x="1421" y="559" width="1" height="63" fill="#c8524f"/>
<rect x="1420" y="564" width="3" height="57" fill="#ef5350"/>
<rect x="1427" y="619" width="1" height="29" fill="#c8524f"/>
<rect x="1426" y="619" width="3" height="21" fill="#ef5350"/>
<rect x="1432" y="564" width="1" height="90" fill="#c8524f"/>
<rect x="1431" y="640" width="3" height="4" fill="#ef5350"/>
<rect x="1438" y="630" width="1" height="24" fill="#c8524f"/>
<rect x="1437" y="644" width="3" height="2" fill="#ef5350"/>
<rect x="1444" y="637" width="1" height="12" fill="#24887e"/>
<rect x="1443" y="645" width="3" height="3" fill="#26a69a"/>
<rect x="1450" y="644" width="1" height="22" fill="#c8524f"/>
<rect x="1449" y="645" width="3" height="4" fill="#ef5350"/>
<rect x="1455" y="646" width="1" height="18" fill="#c8524f"/>
<rect x="1454" y="649" width="3" height="15" fill="#ef5350"/>
<rect x="1461" y="645" width="1" height="67" fill="#24887e"/>
<rect x="1460" y="655" width="3" height="9" fill="#26a69a"/>
<rect x="1467" y="589" width="1" height="69" fill="#24887e"/>
<rect x="1466" y="607" width="3" height="49" fill="#26a69a"/>
<rect x="1473" y="599" width="1" height="44" fill="#24887e"/>
<rect x="1472" y="602" width="3" height="1" fill="#26a69a"/>
<rect x="1479" y="597" width="1" height="22" fill="#c8524f"/>
<rect x="1478" y="603" width="3" height="9" fill="#ef5350"/>
<rect x="1484" y="609" width="1" height="44" fill="#c8524f"/>
<rect x="1483" y="611" width="3" height="19" fill="#ef5350"/>
<rect x="1490" y="557" width="1" height="108" fill="#24887e"/>
<rect x="1489" y="619" width="3" height="11" fill="#26a69a"/>
<rect x="1496" y="611" width="1" height="55" fill="#c8524f"/>
<rect x="1495" y="620" width="3" height="19" fill="#ef5350"/>
<rect x="1502" y="614" width="1" height="25" fill="#24887e"/>
<rect x="1501" y="623" width="3" height="13" fill="#26a69a"/>
<rect x="1507" y="575" width="1" height="48" fill="#24887e"/>
<rect x="1506" y="587" width="3" height="36" fill="#26a69a"/>
<rect x="1513" y="571" width="1" height="28" fill="#c8524f"/>
<rect x="1512" y="587" width="3" height="7" fill="#ef5350"/>
<rect x="1519" y="536" width="1" height="66" fill="#24887e"/>
<rect x="1518" y="559" width="3" height="35" fill="#26a69a"/>
<rect x="1525" y="544" width="1" height="53" fill="#24887e"/>
<rect x="1524" y="556" width="3" height="3" fill="#26a69a"/>
<rect x="1530" y="546" width="1" height="44" fill="#c8524f"/>
<rect x="1529" y="555" width="3" height="29" fill="#ef5350"/>
<rect x="1536" y="564" width="1" height="22" fill="#24887e"/>
<rect x="1535" y="566" width="3" height="19" fill="#26a69a"/>
<rect x="1542" y="523" width="1" height="60" fill="#24887e"/>
<rect x="1541" y="526" width="3" height="40" fill="#26a69a"/>
<rect x="1548" y="492" width="1" height="87" fill="#c8524f"/>
<rect x="1547" y="526" width="3" height="16" fill="#ef5350"/>
<rect x="1554" y="504" width="1" height="47" fill="#24887e"/>
<rect x="1553" y="520" width="3" height="22" fill="#26a69a"/>
<rect x="1559" y="476" width="1" height="54" fill="#24887e"/>
<rect x="1558" y="486" width="3" height="44" fill="#26a69a"/>
</g>
<line x1="1044.5" y1="429.5" x2="1868" y2="429.5" stroke="#b5285e" stroke-width="1" shape-rendering="crispEdges"/>
<line x1="1356" y1="538.5" x2="1868" y2="538.5" stroke="#b5285e" stroke-width="1" shape-rendering="crispEdges"/>
<line x1="1477" y1="666.5" x2="1868" y2="666.5" stroke="#b5285e" stroke-width="1" shape-rendering="crispEdges"/>
<line x1="1362" y1="712.5" x2="1868" y2="712.5" stroke="#b5285e" stroke-width="1" shape-rendering="crispEdges"/>
<line x1="1206" y1="784.5" x2="1868" y2="784.5" stroke="#b5285e" stroke-width="1" shape-rendering="crispEdges"/>
<line x1="0" y1="743.6" x2="1218.7" y2="143.6" stroke="#1e222d" stroke-width="1.15"/>
<line x1="768.3" y1="25.3" x2="1868" y2="770.6" stroke="#1e222d" stroke-width="1.15"/>
<line x1="0" y1="486.5" x2="1808" y2="486.5" stroke="#50665f" stroke-width="1" stroke-dasharray="1 2" shape-rendering="crispEdges"/>
<polyline points="1.6,964.8 7.3,961.5 13.1,952.8 18.9,940.9 24.7,941.7 30.4,943.4 36.2,939.1 42.0,931.2 47.7,918.9 53.5,917.3 59.3,926.3 65.1,925.2 70.8,931.5 76.6,932.2 82.4,925.2 88.2,921.6 93.9,917.8" fill="none" stroke="#2a2e39" stroke-width="1.2" stroke-linejoin="round"/>
<polyline points="93.9,917.8 99.7,911.2 105.5,908.0 111.3,913.5" fill="none" stroke="#f7525f" stroke-width="1.2" stroke-linejoin="round"/>
<polyline points="111.3,913.5 117.0,923.6 122.8,921.1 128.6,924.8 134.3,923.5 140.1,926.7 145.9,932.5 151.7,921.3 157.4,938.4 163.2,930.7 169.0,921.4 174.8,926.7 180.5,922.3 186.3,925.9 192.1,922.3 197.9,933.8 203.6,925.2 209.4,925.2 215.2,920.2 220.9,917.0 226.7,917.8 232.5,925.2 238.3,931.8 244.0,936.4 249.8,940.0 255.6,940.0 261.4,939.0 267.1,938.8 272.9,958.9 278.7,960.7 284.5,951.9 290.2,948.3 296.0,941.7 301.8,951.7 307.5,955.0 313.3,958.6 319.1,942.3 324.9,939.9 330.6,936.0 336.4,930.6 342.2,929.2 348.0,927.4 353.7,941.5 359.5,932.3 365.3,928.4 371.1,917.5 376.8,926.0 382.6,923.3 388.4,914.8 394.1,925.8 399.9,930.8 405.7,934.2 411.5,933.3 417.2,931.2 423.0,934.0 428.8,942.8 434.6,945.7 440.3,953.0 446.1,950.3 451.9,959.5 457.7,957.1 463.4,962.8 469.2,960.0 475.0,959.9 480.7,954.0 486.5,950.8 492.3,943.3 498.1,935.4 503.8,954.6 509.6,955.8 515.4,938.3 521.2,938.8 526.9,934.5 532.7,934.1 538.5,939.4 544.3,938.2 550.0,936.4 555.8,934.1 561.6,936.1 567.3,952.7 573.1,949.7 578.9,947.5 584.7,947.1 590.4,955.5 596.2,959.4 602.0,946.9 607.8,945.3 613.5,937.4 619.3,948.5 625.1,944.6 630.8,938.0 636.6,946.3 642.4,942.8 648.2,947.2 653.9,935.4 659.7,936.3 665.5,950.0 671.3,948.8 677.0,954.1 682.8,975.0" fill="none" stroke="#2a2e39" stroke-width="1.2" stroke-linejoin="round"/>
<polyline points="682.8,975.0 688.6,979.5" fill="none" stroke="#f7525f" stroke-width="1.2" stroke-linejoin="round"/>
<polyline points="688.6,979.5 694.4,972.2 700.1,970.8 705.9,969.6 711.7,967.5 717.4,963.2 723.2,958.2 729.0,961.2 734.8,954.1 740.5,947.8 746.3,952.3 752.1,954.8 757.9,956.0 763.6,941.0 769.4,925.3 775.2,922.0 781.0,929.1 786.7,924.7 792.5,923.8" fill="none" stroke="#2a2e39" stroke-width="1.2" stroke-linejoin="round"/>
<polyline points="792.5,923.8 798.3,906.9 804.0,903.8 809.8,901.3 815.6,902.3 821.4,911.9" fill="none" stroke="#f7525f" stroke-width="1.2" stroke-linejoin="round"/>
<polyline points="821.4,911.9 827.1,924.1 832.9,932.3 838.7,938.6 844.5,936.3 850.2,936.9 856.0,925.4 861.8,941.0 867.6,934.2 873.3,932.1 879.1,932.7 884.9,950.0 890.6,941.1 896.4,945.2 902.2,950.8 908.0,954.0 913.7,951.1 919.5,943.7 925.3,941.9 931.1,942.9 936.8,948.6 942.6,957.7 948.4,962.5 954.2,968.0 959.9,967.8 965.7,969.5 971.5,958.8 977.2,949.5 983.0,944.5 988.8,940.6 994.6,949.2 1000.3,958.3 1006.1,958.5 1011.9,953.9 1017.7,953.0 1023.4,951.2 1029.2,966.8 1035.0,967.8 1040.8,966.3 1046.5,966.7 1052.3,963.7" fill="none" stroke="#2a2e39" stroke-width="1.2" stroke-linejoin="round"/>
<polyline points="1052.3,963.7 1058.1,984.4 1063.8,980.9 1069.6,979.1 1075.4,983.2 1081.2,984.6" fill="none" stroke="#f7525f" stroke-width="1.2" stroke-linejoin="round"/>
<polyline points="1081.2,984.6 1086.9,970.9 1092.7,978.5 1098.5,978.1 1104.3,975.9 1110.0,961.3 1115.8,965.7 1121.6,971.1 1127.4,975.1 1133.1,977.7" fill="none" stroke="#2a2e39" stroke-width="1.2" stroke-linejoin="round"/>
<polyline points="1133.1,977.7 1138.9,980.9 1144.7,983.7 1150.4,988.5 1156.2,988.5 1162.0,981.9" fill="none" stroke="#f7525f" stroke-width="1.2" stroke-linejoin="round"/>
<polyline points="1162.0,981.9 1167.8,977.5" fill="none" stroke="#2a2e39" stroke-width="1.2" stroke-linejoin="round"/>
<polyline points="1167.8,977.5 1173.5,995.7 1179.3,997.3 1185.1,998.0 1190.9,997.5 1196.6,998.5 1202.4,981.5" fill="none" stroke="#f7525f" stroke-width="1.2" stroke-linejoin="round"/>
<polyline points="1202.4,981.5 1208.2,967.6 1214.0,967.8 1219.7,971.7 1225.5,963.0 1231.3,967.2 1237.0,961.5 1242.8,959.3 1248.6,955.1 1254.4,940.4 1260.1,934.9 1265.9,930.4 1271.7,929.0 1277.5,934.1 1283.2,926.6 1289.0,933.7 1294.8,933.4 1300.6,933.4 1306.3,933.6 1312.1,930.0 1317.9,924.0 1323.6,932.1 1329.4,935.2 1335.2,946.1 1341.0,939.8 1346.7,924.6 1352.5,922.7 1358.3,920.7 1364.1,920.1 1369.8,919.5 1375.6,943.0 1381.4,933.3 1387.2,935.5 1392.9,941.2 1398.7,951.7 1404.5,954.7 1410.2,949.7 1416.0,951.2 1421.8,962.7 1427.6,965.9 1433.3,966.8 1439.1,967.0 1444.9,966.8 1450.7,967.7 1456.4,970.8 1462.2,967.5 1468.0,951.0 1473.8,949.4 1479.5,952.3 1485.3,957.3 1491.1,953.5 1496.8,959.1 1502.6,953.5 1508.4,942.0 1514.2,944.2 1519.9,934.3 1525.7,933.6 1531.5,943.3 1537.3,938.0 1543.0,928.0 1548.8,933.7 1554.6,928.6 1560.4,921.5" fill="none" stroke="#2a2e39" stroke-width="1.2" stroke-linejoin="round"/>
<rect x="1869" y="0" width="50" height="1037" fill="#ffffff"/>
<g shape-rendering="crispEdges">
<line x1="1868.5" y1="0" x2="1868.5" y2="1037" stroke="#6a6d78" stroke-width="1"/>
<line x1="0" y1="885.5" x2="1919" y2="885.5" stroke="#dcdde2" stroke-width="1"/>
<line x1="0" y1="1009.5" x2="1919" y2="1009.5" stroke="#6a6d78" stroke-width="1"/>
<line x1="0" y1="1037.5" x2="1919" y2="1037.5" stroke="#e0e3eb" stroke-width="1"/>
<rect x="0" y="1076" width="1919" height="3" fill="#e3e5ee"/>
</g>
<g class="t" font-size="12" fill="#3d414c">
<text x="1877.5" y="16.5" textLength="25" lengthAdjust="spacingAndGlyphs">USD</text>
<text x="1877.5" y="35.5" textLength="25" lengthAdjust="spacingAndGlyphs">STN</text>
<text x="1878.2" y="71.4" textLength="29" lengthAdjust="spacingAndGlyphs">497.5</text>
<text x="1878.2" y="102.4" textLength="29" lengthAdjust="spacingAndGlyphs">495.0</text>
<text x="1878.2" y="133.3" textLength="29" lengthAdjust="spacingAndGlyphs">492.5</text>
<text x="1878.2" y="164.3" textLength="29" lengthAdjust="spacingAndGlyphs">490.0</text>
<text x="1878.2" y="195.2" textLength="29" lengthAdjust="spacingAndGlyphs">487.5</text>
<text x="1878.2" y="226.2" textLength="29" lengthAdjust="spacingAndGlyphs">485.0</text>
<text x="1878.2" y="257.1" textLength="29" lengthAdjust="spacingAndGlyphs">482.5</text>
<text x="1878.2" y="288.1" textLength="29" lengthAdjust="spacingAndGlyphs">480.0</text>
<text x="1878.2" y="319.0" textLength="29" lengthAdjust="spacingAndGlyphs">477.5</text>
<text x="1878.2" y="350.0" textLength="29" lengthAdjust="spacingAndGlyphs">475.0</text>
<text x="1878.2" y="381.0" textLength="29" lengthAdjust="spacingAndGlyphs">472.5</text>
<text x="1878.2" y="411.9" textLength="29" lengthAdjust="spacingAndGlyphs">470.0</text>
<text x="1878.2" y="442.9" textLength="29" lengthAdjust="spacingAndGlyphs">467.5</text>
<text x="1878.2" y="473.8" textLength="29" lengthAdjust="spacingAndGlyphs">465.0</text>
<text x="1878.2" y="504.8" textLength="29" lengthAdjust="spacingAndGlyphs">462.5</text>
<text x="1878.2" y="535.7" textLength="29" lengthAdjust="spacingAndGlyphs">460.0</text>
<text x="1878.2" y="566.7" textLength="29" lengthAdjust="spacingAndGlyphs">457.5</text>
<text x="1878.2" y="597.6" textLength="29" lengthAdjust="spacingAndGlyphs">455.0</text>
<text x="1878.2" y="628.6" textLength="29" lengthAdjust="spacingAndGlyphs">452.5</text>
<text x="1878.2" y="659.5" textLength="29" lengthAdjust="spacingAndGlyphs">450.0</text>
<text x="1878.2" y="690.5" textLength="29" lengthAdjust="spacingAndGlyphs">447.5</text>
<text x="1878.2" y="721.5" textLength="29" lengthAdjust="spacingAndGlyphs">445.0</text>
<text x="1878.2" y="752.4" textLength="29" lengthAdjust="spacingAndGlyphs">442.5</text>
<text x="1878.2" y="783.4" textLength="29" lengthAdjust="spacingAndGlyphs">440.0</text>
<text x="1878.2" y="814.3" textLength="29" lengthAdjust="spacingAndGlyphs">437.5</text>
<text x="1878.2" y="845.3" textLength="29" lengthAdjust="spacingAndGlyphs">435.0</text>
<text x="1878.2" y="876.2" textLength="29" lengthAdjust="spacingAndGlyphs">432.5</text>
<text x="1877.6" y="902.2" textLength="23.5" lengthAdjust="spacingAndGlyphs">80.0</text>
<text x="1877.6" y="934.7" textLength="23.5" lengthAdjust="spacingAndGlyphs">60.0</text>
<text x="1877.6" y="967.2" textLength="23.5" lengthAdjust="spacingAndGlyphs">40.0</text>
<text x="1877.6" y="999.7" textLength="23.5" lengthAdjust="spacingAndGlyphs">20.0</text>
</g>
<path d="M1905.5 13.5 l2 2 l2 -2 M1905.5 32.5 l2 2 l2 -2" fill="none" stroke="#3d414c" stroke-width="1.3"/>
<path d="M1869 420.4 h43 a2 2 0 0 1 2 2 v13 a2 2 0 0 1 -2 2 h-43 z" fill="#e91e63"/>
<text class="t" x="1878.2" y="433.3" font-size="12" font-weight="bold" fill="#fff" textLength="29" lengthAdjust="spacingAndGlyphs">468.3</text>
<path d="M1869 477.3 h43 a2 2 0 0 1 2 2 v13 a2 2 0 0 1 -2 2 h-43 z" fill="#26a69a"/>
<text class="t" x="1878.2" y="490.2" font-size="12" font-weight="bold" fill="#fff" textLength="29" lengthAdjust="spacingAndGlyphs">463.7</text>
<path d="M1869 508.3 h43 a2 2 0 0 1 2 2 v13 a2 2 0 0 1 -2 2 h-43 z" fill="#2962ff"/>
<text class="t" x="1878.2" y="521.2" font-size="12" font-weight="bold" fill="#fff" textLength="29" lengthAdjust="spacingAndGlyphs">461.2</text>
<path d="M1869 529.3 h43 a2 2 0 0 1 2 2 v13 a2 2 0 0 1 -2 2 h-43 z" fill="#e91e63"/>
<text class="t" x="1878.2" y="542.2" font-size="12" font-weight="bold" fill="#fff" textLength="29" lengthAdjust="spacingAndGlyphs">459.5</text>
<path d="M1869 658.1 h43 a2 2 0 0 1 2 2 v13 a2 2 0 0 1 -2 2 h-43 z" fill="#e91e63"/>
<text class="t" x="1878.2" y="671.0" font-size="12" font-weight="bold" fill="#fff" textLength="29" lengthAdjust="spacingAndGlyphs">449.1</text>
<path d="M1869 703.9 h43 a2 2 0 0 1 2 2 v13 a2 2 0 0 1 -2 2 h-43 z" fill="#e91e63"/>
<text class="t" x="1878.2" y="716.8" font-size="12" font-weight="bold" fill="#fff" textLength="29" lengthAdjust="spacingAndGlyphs">445.4</text>
<path d="M1869 775.7 h43 a2 2 0 0 1 2 2 v13 a2 2 0 0 1 -2 2 h-43 z" fill="#e91e63"/>
<text class="t" x="1878.2" y="788.6" font-size="12" font-weight="bold" fill="#fff" textLength="29" lengthAdjust="spacingAndGlyphs">439.6</text>
<rect x="1808" y="477.5" width="59" height="16.5" rx="2" fill="#26a69a"/>
<text class="t" x="1814.5" y="490.2" font-size="12" font-weight="bold" fill="#fff" textLength="46.3" lengthAdjust="spacingAndGlyphs">ZMK2023</text>
<line x1="1914" y1="516.5" x2="1919" y2="516.5" stroke="#90b4ff" stroke-width="1"/>
<text class="t" x="12.2" y="1027" font-size="12" fill="#3b3e48" textLength="11.5" lengthAdjust="spacingAndGlyphs">26</text>
<text class="t" x="106.2" y="1027" font-size="12" font-weight="bold" fill="#3b3e48" textLength="54.7" lengthAdjust="spacingAndGlyphs">Tháng Hai</text>
<text class="t" x="222.5" y="1027" font-size="12" fill="#3b3e48" textLength="5.6" lengthAdjust="spacingAndGlyphs">6</text>
<text class="t" x="364.0" y="1027" font-size="12" fill="#3b3e48" textLength="12" lengthAdjust="spacingAndGlyphs">13</text>
<text class="t" x="666.5" y="1027" font-size="12" font-weight="bold" fill="#3b3e48" textLength="43" lengthAdjust="spacingAndGlyphs">Tháng 3</text>
<text class="t" x="777.2" y="1027" font-size="12" fill="#3b3e48" textLength="5.6" lengthAdjust="spacingAndGlyphs">6</text>
<text class="t" x="918.0" y="1027" font-size="12" fill="#3b3e48" textLength="12" lengthAdjust="spacingAndGlyphs">13</text>
<text class="t" x="1062.0" y="1027" font-size="12" fill="#3b3e48" textLength="12" lengthAdjust="spacingAndGlyphs">20</text>
<text class="t" x="1207.0" y="1027" font-size="12" fill="#3b3e48" textLength="12" lengthAdjust="spacingAndGlyphs">27</text>
<text class="t" x="1335.5" y="1027" font-size="12" font-weight="bold" fill="#3b3e48" textLength="43.5" lengthAdjust="spacingAndGlyphs">Tháng 4</text>
<text class="t" x="1466.8" y="1027" font-size="12" fill="#3b3e48" textLength="11.6" lengthAdjust="spacingAndGlyphs">10</text>
<text class="t" x="1611.0" y="1027" font-size="12" fill="#3b3e48" textLength="12" lengthAdjust="spacingAndGlyphs">17</text>
<text class="t" x="1755.2" y="1027" font-size="12" fill="#3b3e48" textLength="12.5" lengthAdjust="spacingAndGlyphs">24</text>
<path d="M417 1009.5 H590 V1030.5 a2 2 0 0 1 -2 2 H419 a2 2 0 0 1 -2 -2 Z" fill="#2962ff"/>
<text class="t" x="425" y="1027.5" font-size="12" font-weight="bold" fill="#fff" textLength="117" lengthAdjust="spacingAndGlyphs">Th 6 17 Tháng Hai '23</text>
<text class="t" x="551.5" y="1027.5" font-size="12" font-weight="bold" fill="#fff" textLength="30" lengthAdjust="spacingAndGlyphs">20:00</text>
<circle cx="1894.5" cy="1023.3" r="4.6" fill="none" stroke="#131722" stroke-width="1.2"/>
<path d="M1900.10 1023.30 L1901.80 1023.30 M1898.46 1027.26 L1899.66 1028.46 M1894.50 1028.90 L1894.50 1030.60 M1890.54 1027.26 L1889.34 1028.46 M1888.90 1023.30 L1887.20 1023.30 M1890.54 1019.34 L1889.34 1018.14 M1894.50 1017.70 L1894.50 1016.00 M1898.46 1019.34 L1899.66 1018.14" stroke="#131722" stroke-width="1.2" fill="none"/>
<text class="t" x="16.8" y="1062" font-size="13.5" fill="#131722" textLength="43" lengthAdjust="spacingAndGlyphs">1 Ngày</text>
<text class="t" x="74.3" y="1062" font-size="13.5" fill="#131722" textLength="43.7" lengthAdjust="spacingAndGlyphs">5 Ngày</text>
<text class="t" x="133" y="1062" font-size="13.5" fill="#131722" textLength="50.5" lengthAdjust="spacingAndGlyphs">1 Tháng</text>
<text class="t" x="197.7" y="1062" font-size="13.5" fill="#131722" textLength="51.1" lengthAdjust="spacingAndGlyphs">3 Tháng</text>
<text class="t" x="263.3" y="1062" font-size="13.5" fill="#131722" textLength="46.2" lengthAdjust="spacingAndGlyphs">6 tháng</text>
<text class="t" x="324" y="1062" font-size="13.5" fill="#131722" textLength="27.2" lengthAdjust="spacingAndGlyphs">YTD</text>
<text class="t" x="366.7" y="1062" font-size="13.5" fill="#131722" textLength="39.8" lengthAdjust="spacingAndGlyphs">1 Năm</text>
<text class="t" x="421.6" y="1062" font-size="13.5" fill="#131722" textLength="40.4" lengthAdjust="spacingAndGlyphs">5 Năm</text>
<text class="t" x="477.2" y="1062" font-size="13.5" fill="#131722" textLength="37.5" lengthAdjust="spacingAndGlyphs">Tất cả</text>
<line x1="531.5" y1="1045" x2="531.5" y2="1068" stroke="#e0e3eb" stroke-width="1"/>
<g fill="none" stroke="#131722" stroke-width="1.2" stroke-linecap="round"><path d="M549.4 1055.3 V1052.3 a2 2 0 0 1 2 -2 H562.7 a2 2 0 0 1 2 2 V1061.5 a2 2 0 0 1 -2 2 H557.2"/><path d="M549.4 1054.4 H564.7"/><path d="M553.5 1049 V1051.9 M560.5 1049 V1051.9"/><path d="M548.1 1060.5 H555.3 M552.4 1057.2 L555.6 1060.5 L552.4 1063.8"/></g>
<text class="t" x="1664.5" y="1062" font-size="13.5" fill="#131722" textLength="112.3" lengthAdjust="spacingAndGlyphs">10:14:30 (UTC+7)</text>
<text class="t" x="1800" y="1062" font-size="13.5" fill="#131722" textLength="27.4" lengthAdjust="spacingAndGlyphs">ETH</text>
<line x1="1844.5" y1="1046" x2="1844.5" y2="1067" stroke="#e0e3eb" stroke-width="1"/>
<text class="t" x="1861.3" y="1062" font-size="13.5" fill="#131722" textLength="47" lengthAdjust="spacingAndGlyphs">tự động</text>
<g fill="#131722"><path d="M12.3 980.2 H23.7 V994.6 H17.8 V984.8 H12.3 Z"/><circle cx="29.3" cy="982.6" r="2.4"/><path d="M34.2 980.2 H41.6 L35.6 994.6 H28.2 Z"/></g>
<text class="t" x="49.7" y="994.6" font-size="20" font-weight="bold" fill="#131722" textLength="119.4" lengthAdjust="spacingAndGlyphs">TradingView</text>
<rect x="0" y="0" width="770" height="28" fill="#fff" fill-opacity="0.6"/>
<text class="t" x="9.5" y="20.8" font-size="15.6" fill="#5a5d68" textLength="377.5" lengthAdjust="spacing">SOYBEAN MEAL FUTURES (MAY 2023) · 4h · CBOT</text>
<path d="M400 10.1 H412 L408.3 16 L412 21.8 H400 Z" fill="#f23645"/>
<path d="M440 7.3 H449.5 V24.6 H440 a8.65 8.65 0 0 1 0 -17.3 Z" fill="#dcefec"/>
<path d="M449.5 7.3 H460.5 a8.65 8.65 0 0 1 0 17.3 H449.5 Z" fill="#fdf0dd"/>
<circle cx="441.9" cy="16" r="4.3" fill="#089981"/>
<text class="t" x="456.8" y="20.6" font-size="12" fill="#ec9a2a" stroke="#ec9a2a" stroke-width="0.4" textLength="6.8" lengthAdjust="spacingAndGlyphs">D</text>
<text class="t" x="488.1" y="21.5" font-size="13" fill="#5f6370">O</text>
<text class="t" x="498.4" y="21.5" font-size="13" fill="#3fa896" textLength="32.4" lengthAdjust="spacingAndGlyphs">460.2</text>
<text class="t" x="537.5" y="21.5" font-size="13" fill="#5f6370">H</text>
<text class="t" x="548" y="21.5" font-size="13" fill="#3fa896" textLength="31.3" lengthAdjust="spacingAndGlyphs">464.5</text>
<text class="t" x="586.7" y="21.5" font-size="13" fill="#5f6370">L</text>
<text class="t" x="594.9" y="21.5" font-size="13" fill="#3fa896" textLength="31.2" lengthAdjust="spacingAndGlyphs">459.6</text>
<text class="t" x="633.1" y="21.5" font-size="13" fill="#5f6370">C</text>
<text class="t" x="643.3" y="21.5" font-size="13" fill="#3fa896" textLength="31.7" lengthAdjust="spacingAndGlyphs">463.7</text>
<text class="t" x="682.3" y="21.5" font-size="13" fill="#3fa896" textLength="24.3" lengthAdjust="spacingAndGlyphs">+2.8</text>
<text class="t" x="711.3" y="21.5" font-size="13" fill="#3fa896" textLength="52.3" lengthAdjust="spacingAndGlyphs">(+0.61%)</text>
<rect x="8.8" y="32.8" width="47.5" height="22.3" rx="4" fill="#fff" stroke="#e5525c" stroke-width="1"/>
<text class="t" x="16.7" y="48.6" font-size="13" fill="#e0404c" textLength="31.5" lengthAdjust="spacingAndGlyphs">463.6</text>
<text class="t" x="64.8" y="48.6" font-size="13" fill="#131722" textLength="14.4" lengthAdjust="spacingAndGlyphs">0.2</text>
<rect x="88.5" y="32.8" width="46.7" height="22.3" rx="4" fill="#fff" stroke="#3d63dd" stroke-width="1"/>
<text class="t" x="96.2" y="48.6" font-size="13" fill="#3a5fd8" textLength="31.5" lengthAdjust="spacingAndGlyphs">463.8</text>
<rect x="9.8" y="62.5" width="30.5" height="19.8" rx="2.5" fill="#fff" stroke="#e0e3eb" stroke-width="1"/>
<path d="M16 70.2 l3.6 3.6 l3.6 -3.6" fill="none" stroke="#131722" stroke-width="1.3"/>
<text class="t" x="29.4" y="76.8" font-size="14" fill="#131722">3</text>
<rect x="502.5" y="515.5" width="537" height="341" fill="#ffffff" fill-opacity="0.7" stroke="#6b7280" stroke-width="1" shape-rendering="crispEdges"/>
<g class="d" font-size="14.5" fill="#000000" stroke="#000" stroke-width="0.35" style="white-space:pre">
<text x="506.6" y="531.7" textLength="273.4" lengthAdjust="spacingAndGlyphs" xml:space="preserve">KHÔ ĐẬU TƯƠNG THÁNg 5 - ZMEK23</text>
<text x="506.6" y="563.7" textLength="523.7" lengthAdjust="spacingAndGlyphs" xml:space="preserve">Tiếp tục đà tăng trở lại từ quanh vùng MUA lướt theo KNDN, giá vượt</text>
<text x="506.6" y="579.7" textLength="509.2" lengthAdjust="spacingAndGlyphs" xml:space="preserve">vùng cản 459.x vào phiên Mỹ trước khi đóng cửa tại 460.9 vào cuối</text>
<text x="506.6" y="595.7" textLength="430.5" lengthAdjust="spacingAndGlyphs" xml:space="preserve">phiên. (Mặc dù diễn biến giá đầu phiên Mỹ giá trái chiều).</text>
<text x="506.6" y="611.7" textLength="506.4" lengthAdjust="spacingAndGlyphs" xml:space="preserve">- Sáng nay mở phiên giá tiếp tục đà tăng khá đáng kể theo đà chung</text>
<text x="506.6" y="627.7" textLength="193.3" lengthAdjust="spacingAndGlyphs" xml:space="preserve">của ĐẬU TƯƠNg về 463.x</text>
<text x="506.6" y="659.7" textLength="517.9" lengthAdjust="spacingAndGlyphs" xml:space="preserve">- Ngắn hạn, KHÔ ĐẬU TƯƠNG có xu thế tăng trở lại sau nhịp giảm từ</text>
<text x="506.6" y="675.7" textLength="526" lengthAdjust="spacingAndGlyphs" xml:space="preserve">468.x về 445.x giá phá qua trendline giảm trước đó từ vùng đỉnh 498.</text>
<text x="506.6" y="691.7" textLength="522.8" lengthAdjust="spacingAndGlyphs" xml:space="preserve">- Dài hạn, KHÔ ĐẬU TƯƠNG chịu áp lực giảm trở lại tạo đỉnh vùng giá</text>
<text x="506.6" y="707.7" textLength="511.2" lengthAdjust="spacingAndGlyphs" xml:space="preserve">498 sau giai đoạn tăng dài trước đó trong bối cảnh CBOT chạm vùng</text>
<text x="506.6" y="723.7" textLength="107.5" lengthAdjust="spacingAndGlyphs" xml:space="preserve">giá đáy 2 năm.</text>
<text x="506.6" y="755.7" textLength="493" lengthAdjust="spacingAndGlyphs" xml:space="preserve">- Kịch bản giao dịch: Ưu tiên MUA.BÁN lướt chốt lời khi có lãi ổn.</text>
<text x="506.6" y="771.7" textLength="478.6" lengthAdjust="spacingAndGlyphs" xml:space="preserve">+ KB1: vùng chờ MUA lướt tiềm năng 461.x - 462.x  STP : 459.5</text>
<text x="506.6" y="787.7" textLength="488.1" lengthAdjust="spacingAndGlyphs" xml:space="preserve">+ KB2: Giảm dưới 659.5 => BÁN lướt trở lại mục tiêu ngắn về lại</text>
<text x="506.6" y="803.7" textLength="78" lengthAdjust="spacingAndGlyphs" xml:space="preserve">quanh 456</text>
<text x="506.6" y="835.7" textLength="502.6" lengthAdjust="spacingAndGlyphs" xml:space="preserve">+ KB3: Giá tăng về 466 - 468 có tín hiệu đảo chiều => BÁN lướt trở</text>
<text x="506.6" y="851.7" textLength="23.1" lengthAdjust="spacingAndGlyphs" xml:space="preserve">lại.</text>
</g>
<circle cx="1040" cy="687" r="5" fill="#fff" stroke="#2962ff" stroke-width="1.5"/>
<circle cx="771" cy="857" r="5" fill="#fff" stroke="#2962ff" stroke-width="1.5"/>
<defs><filter id="sh" x="-10%" y="-40%" width="120%" height="200%"><feDropShadow dx="0" dy="1.5" stdDeviation="2" flood-color="#000" flood-opacity="0.22"/></filter></defs>
<rect x="768.5" y="53.5" width="327" height="37" rx="6" fill="#fff" filter="url(#sh)"/>
<g fill="#b2b5be"><circle cx="777.2" cy="66.8" r="1"/><circle cx="777.2" cy="71.9" r="1"/><circle cx="777.2" cy="76.9" r="1"/><circle cx="783.2" cy="66.8" r="1"/><circle cx="783.2" cy="71.9" r="1"/><circle cx="783.2" cy="76.9" r="1"/></g>
<g fill="none" stroke="#131722" stroke-width="1.1"><rect x="803.3" y="64.7" width="5.9" height="5.7" rx="1.3"/><rect x="812.6" y="64.7" width="5.9" height="5.7" rx="1.3"/><rect x="803.3" y="73.6" width="5.9" height="5.7" rx="1.3"/><path d="M815.55 73.3 V79.6 M812.4 76.45 H818.7"/></g>
<path d="M843.3 64.8 V61.6 H856 V64.8 M849.65 61.6 V76 M846.9 76 H852.4" fill="none" stroke="#131722" stroke-width="1.1"/>
<rect x="838.4" y="80.5" width="21.5" height="3.2" rx="1.6" fill="#000"/>
<g fill="none" stroke="#131722" stroke-width="1.1"><path d="M887.2 62.8 L894.2 69.8 L888.8 75.2 L881.8 68.2 Z"/><path d="M885.6 64.4 L885.6 61.2 a1.2 1.2 0 0 1 2.4 0 V67"/></g>
<circle cx="880.7" cy="73.3" r="2.1" fill="#131722"/><circle cx="887.3" cy="67.2" r="0.9" fill="#131722"/>
<g fill="#c3c6ce"><rect x="876.5" y="80.5" width="1.5" height="1.5"/><rect x="878.0" y="82" width="1.5" height="1.5"/><rect x="879.5" y="80.5" width="1.5" height="1.5"/><rect x="881.0" y="82" width="1.5" height="1.5"/><rect x="882.5" y="80.5" width="1.5" height="1.5"/><rect x="884.0" y="82" width="1.5" height="1.5"/><rect x="885.5" y="80.5" width="1.5" height="1.5"/><rect x="887.0" y="82" width="1.5" height="1.5"/><rect x="888.5" y="80.5" width="1.5" height="1.5"/><rect x="890.0" y="82" width="1.5" height="1.5"/><rect x="891.5" y="80.5" width="1.5" height="1.5"/><rect x="893.0" y="82" width="1.5" height="1.5"/><rect x="894.5" y="80.5" width="1.5" height="1.5"/><rect x="896.0" y="82" width="1.5" height="1.5"/></g>
<text class="t" x="918.5" y="76.6" font-size="13.5" fill="#131722" textLength="13.5" lengthAdjust="spacingAndGlyphs">16</text>
<polygon points="960.87,65.30 961.99,62.74 963.81,62.74 964.93,65.30 966.20,65.83 968.80,64.81 970.09,66.10 969.07,68.70 969.60,69.97 972.16,71.09 972.16,72.91 969.60,74.03 969.07,75.30 970.09,77.90 968.80,79.19 966.20,78.17 964.93,78.70 963.81,81.26 961.99,81.26 960.87,78.70 959.60,78.17 957.00,79.19 955.71,77.90 956.73,75.30 956.20,74.03 953.64,72.91 953.64,71.09 956.20,69.97 956.73,68.70 955.71,66.10 957.00,64.81 959.60,65.83" fill="none" stroke="#131722" stroke-width="1.1" stroke-linejoin="round"/>
<circle cx="962.9" cy="72" r="2.6" fill="none" stroke="#131722" stroke-width="1.1"/>
<g fill="none" stroke="#131722" stroke-width="1.1"><rect x="993.6" y="70" width="15" height="11.5" rx="1.8"/><path d="M998.2 70 V67 a3.2 3.2 0 0 1 6.4 0 V67.6"/></g>
<rect x="1000.3" y="74.2" width="1.7" height="3.4" rx="0.8" fill="#131722"/>
<g fill="none" stroke="#131722" stroke-width="1.1"><path d="M1030 66.6 H1048"/><path d="M1036 66.6 V64.3 a1 1 0 0 1 1 -1 H1041.6 a1 1 0 0 1 1 1 V66.6"/><path d="M1032.4 66.6 L1033.4 80 a1.6 1.6 0 0 0 1.6 1.5 H1043 a1.6 1.6 0 0 0 1.6 -1.5 L1045.6 66.6"/><path d="M1036.6 70.6 V77.4 M1041.4 70.6 V77.4"/></g>
<g fill="none" stroke="#131722" stroke-width="1.1" stroke-width="1.2"><circle cx="1070.5" cy="72.4" r="2"/><circle cx="1077.5" cy="72.4" r="2"/><circle cx="1084.5" cy="72.4" r="2"/></g>
</svg></body></html>
